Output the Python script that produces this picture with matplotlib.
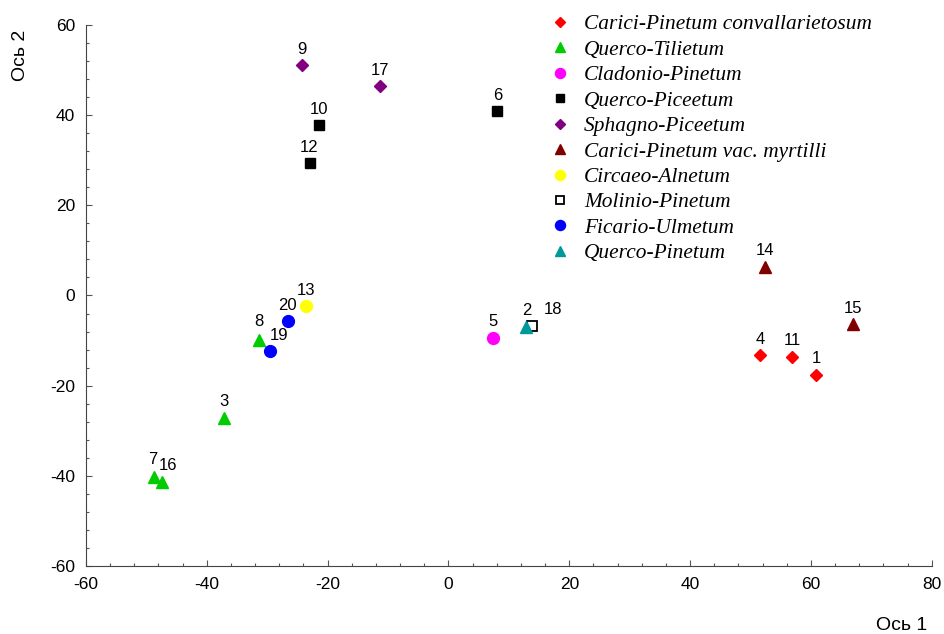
import matplotlib.pyplot as plt
from matplotlib.ticker import MultipleLocator

plt.rcParams["axes.unicode_minus"] = False

# Ordination scores of the releves, grouped by association
groups = [
    "Carici-Pinetum convallarietosum",
    "Querco-Tilietum",
    "Cladonio-Pinetum",
    "Querco-Piceetum",
    "Sphagno-Piceetum",
    "Carici-Pinetum vac. myrtilli",
    "Circaeo-Alnetum",
    "Molinio-Pinetum",
    "Ficario-Ulmetum",
    "Querco-Pinetum",
]
releve_ids = [[4, 11, 1], [8, 3, 7, 16], [5], [10, 12, 6], [9, 17],
              [14, 15], [13], [18], [20, 19], [2]]
axis1 = [[51.6, 56.9, 60.9], [-31.4, -37.2, -48.8, -47.5], [7.4],
         [-21.5, -23.0, 8.1], [-24.2, -11.4], [52.4, 67.0], [-23.5],
         [13.9], [-26.6, -29.6], [12.9]]
axis2 = [[-13.3, -13.6, -17.6], [-9.8, -27.1, -40.2, -41.3], [-9.4],
         [37.8, 29.3, 40.9], [51.1, 46.4], [6.4, -6.4], [-2.4],
         [-6.7], [-5.7, -12.4], [-6.9]]

styles = [
    dict(marker="D", color="#ff0000", ms=6.5),
    dict(marker="^", color="#00cc00", ms=8.5),
    dict(marker="o", color="#ff00ff", ms=8.5),
    dict(marker="s", color="#000000", ms=7.5),
    dict(marker="D", color="#800080", ms=6.5),
    dict(marker="^", color="#800000", ms=8.5),
    dict(marker="o", color="#ffff00", ms=8.5),
    dict(marker="s", color="#000000", ms=7, mfc="white", mew=1.3),
    dict(marker="o", color="#0000ff", ms=8.5),
    dict(marker="^", color="#009999", ms=8.5),
]

# label offsets in points for crowded spots
label_offsets = {18: (15, 11.5), 16: (5, 11.5), 19: (7, 11.5), 7: (-1, 12.5),
                 8: (0, 13)}

fig = plt.figure(figsize=(9.44, 6.34), dpi=100)
ax = fig.add_axes([0.0911, 0.1073, 0.8959, 0.8533])

for name, ids, xs, ys, st in zip(groups, releve_ids, axis1, axis2, styles):
    ax.plot(xs, ys, linestyle="none", label=name, **st)
    for n, x, y in zip(ids, xs, ys):
        dx, dy = label_offsets.get(n, (0, 11.5))
        ax.annotate(str(n), (x, y), xytext=(dx, dy), textcoords="offset points",
                    ha="center", va="center", fontsize=12,
                    family="Liberation Sans")

ax.set_xlim(-60, 80)
ax.set_ylim(-60, 60)
ax.xaxis.set_major_locator(MultipleLocator(20))
ax.yaxis.set_major_locator(MultipleLocator(20))
ax.xaxis.set_minor_locator(MultipleLocator(4))
ax.yaxis.set_minor_locator(MultipleLocator(4))
ax.tick_params(which="both", direction="in", labelsize=12.5, pad=8,
               width=0.8, color="#555555")
ax.tick_params(which="major", length=4)
ax.tick_params(which="minor", length=2.5)
for lab in ax.get_xticklabels() + ax.get_yticklabels():
    lab.set_family("Liberation Sans")
ax.spines["top"].set_visible(False)
ax.spines["right"].set_visible(False)
for side in ("left", "bottom"):
    ax.spines[side].set_color("#444444")
    ax.spines[side].set_linewidth(0.8)

fig.text(0.022, 0.913, "Ось 2", rotation=90, ha="center", va="center",
         fontsize=14, family="Liberation Sans")
fig.text(0.955, 0.014, "Ось 1", ha="center", va="center",
         fontsize=14, family="Liberation Sans")

ax.legend(loc="upper left", bbox_to_anchor=(0.5245, 1.055), frameon=False,
          prop=dict(family="Liberation Serif", style="italic", size=15.4),
          handletextpad=0.65, labelspacing=0.255, markerscale=0.85,
          handlelength=1.0)

fig.savefig("out.png", dpi=100)
